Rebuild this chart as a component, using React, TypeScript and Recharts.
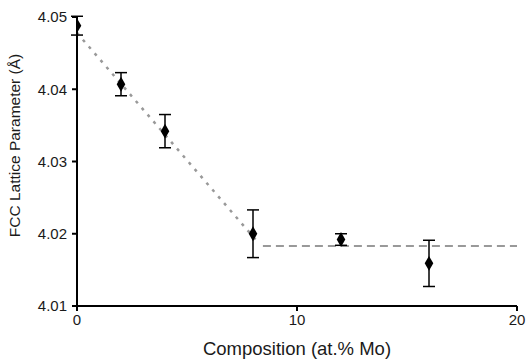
import {
  ComposedChart,
  Scatter,
  Line,
  XAxis,
  YAxis,
  ErrorBar,
} from "recharts";

// measured lattice parameter vs Mo content
const composition = [0, 2, 4, 8, 12, 16];
const latticeParam = [4.0488, 4.0407, 4.0342, 4.02, 4.0192, 4.0159];
const latticeErr = [0.0013, 0.0016, 0.0023, 0.0033, 0.0008, 0.0032];

// trend lines (solid-solution slope, then plateau)
const slopeX = [0, 8.2];
const slopeY = [4.0478, 4.0189];
const plateauX = [8.45, 20];
const plateauY = [4.0183, 4.0183];

const xTicks = [0, 10, 20];
const yTicks = [4.01, 4.02, 4.03, 4.04, 4.05];

const points = composition.map((x, i) => ({
  x,
  y: latticeParam[i],
  err: latticeErr[i],
}));
const slopeData = slopeX.map((x, i) => ({ x, y: slopeY[i] }));
const plateauData = plateauX.map((x, i) => ({ x, y: plateauY[i] }));

const font = "'Liberation Sans', Arial, sans-serif";

const App = () => {
  return (
    <div style={{ position: "absolute", left: 0, top: 0, fontFamily: font }}>
      <ComposedChart
        width={528}
        height={361}
        margin={{ top: 17, right: 11, bottom: 0, left: 0 }}
      >
        <XAxis
          dataKey="x"
          type="number"
          domain={[0, 20]}
          ticks={xTicks}
          allowDataOverflow
          height={55}
          tickSize={5}
          tickMargin={3}
          stroke="#000"
          strokeWidth={2}
          tick={{ fill: "#1a1a1a", fontSize: 15, fontFamily: font }}
          label={{
            value: "Composition (at.% Mo)",
            position: "insideBottom",
            offset: 6,
            fill: "#1a1a1a",
            fontSize: 18.5,
            fontFamily: font,
          }}
        />
        <YAxis
          dataKey="y"
          type="number"
          domain={[4.01, 4.05]}
          ticks={yTicks}
          allowDataOverflow
          width={77}
          tickSize={5}
          tickMargin={5}
          stroke="#000"
          strokeWidth={2}
          tickFormatter={(v: number) => v.toFixed(2)}
          tick={{ fill: "#1a1a1a", fontSize: 15, fontFamily: font }}
          label={{
            value: "FCC Lattice Parameter (Å)",
            angle: -90,
            position: "insideLeft",
            offset: 14,
            dy: -16,
            style: { textAnchor: "middle" },
            fill: "#1a1a1a",
            fontSize: 15.5,
            fontFamily: font,
          }}
        />
        <Line
          data={slopeData}
          dataKey="y"
          stroke="#999"
          strokeWidth={2.5}
          strokeDasharray="3 6"
          dot={false}
          activeDot={false}
          isAnimationActive={false}
        />
        <Line
          data={plateauData}
          dataKey="y"
          stroke="#999"
          strokeWidth={2}
          strokeDasharray="8 5"
          dot={false}
          activeDot={false}
          isAnimationActive={false}
        />
        <Scatter
          data={points}
          dataKey="y"
          fill="#000"
          shape="diamond"
          legendType="none"
          isAnimationActive={false}
        >
          <ErrorBar
            dataKey="err"
            direction="y"
            width={6}
            stroke="#000"
            strokeWidth={1.5}
            isAnimationActive={false}
          />
        </Scatter>
      </ComposedChart>
    </div>
  );
};

export default App;
